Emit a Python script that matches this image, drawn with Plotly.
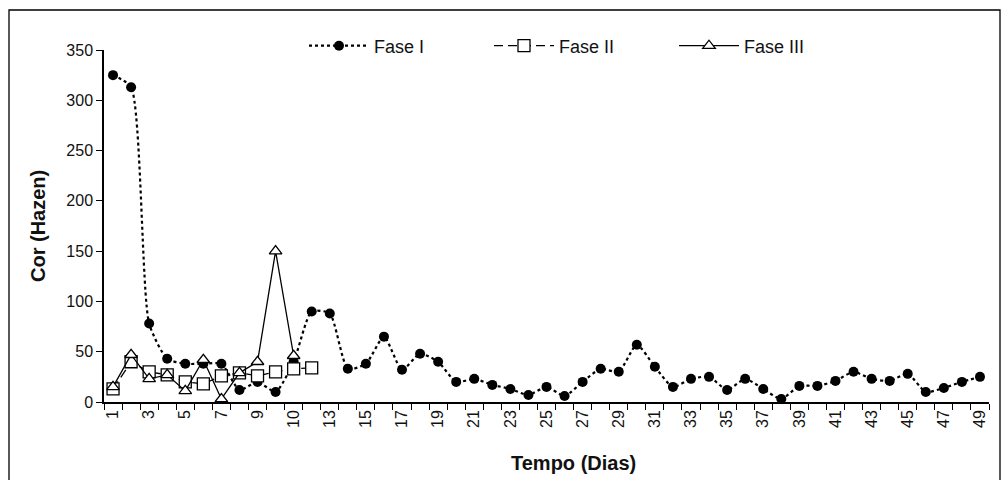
import plotly.graph_objects as go

# Day index for each sample (categorical positions on the x axis)
dias_fase1 = list(range(1, 50))
dias_fase2 = list(range(1, 13))
dias_fase3 = list(range(1, 12))

# Colour readings (Hazen units)
cor_fase1 = [325, 313, 78, 43, 38, 38, 38, 12, 20, 10,
             40, 90, 88, 33, 38, 65, 32, 48, 40, 20,
             23, 17, 13, 7, 15, 6, 20, 33, 30, 57,
             35, 15, 23, 25, 12, 23, 13, 3, 16, 16,
             21, 30, 23, 21, 28, 10, 14, 20, 25]
cor_fase2 = [13, 40, 30, 27, 20, 18, 26, 29, 26, 30, 33, 34]
cor_fase3 = [15, 47, 23, 27, 11, 42, 3, 29, 40, 150, 46]

# Category tick labels (every other category is labelled)
tick_pos = list(range(1, 50, 2))
tick_txt = ["1", "3", "5", "7", "9", "10", "13", "15", "17", "19",
            "21", "23", "25", "27", "29", "31", "33", "35", "37", "39",
            "41", "43", "45", "47", "49"]

FONT = "Arial, 'Liberation Sans', sans-serif"
INK = "#111"

# plot-area geometry in pixels
L, R, T, B = 104, 17, 50, 78
PW, PH = 1006 - L - R, 480 - T - B

fig = go.Figure()

fig.add_trace(go.Scatter(
    x=dias_fase1, y=cor_fase1, name="Fase I", mode="lines+markers",
    line=dict(color="black", width=2.2, dash="dot", shape="spline", smoothing=0.6),
    marker=dict(symbol="circle", size=10, color="black"),
))
fig.add_trace(go.Scatter(
    x=dias_fase2, y=cor_fase2, name="Fase II", mode="lines+markers",
    line=dict(color="black", width=1.3, dash="9px,5px"),
    marker=dict(symbol="square", size=12, color="white",
                line=dict(color="black", width=1.3)),
))
fig.add_trace(go.Scatter(
    x=dias_fase3, y=cor_fase3, name="Fase III", mode="lines+markers",
    line=dict(color="black", width=1.3),
    marker=dict(symbol="triangle-up", size=11, color="white",
                line=dict(color="black", width=1.3)),
))

fig.update_layout(
    width=1006, height=480,
    paper_bgcolor="white", plot_bgcolor="white",
    margin=dict(l=L, r=R, t=T, b=B),
    font=dict(family=FONT, size=16, color=INK),
    showlegend=True,
    legend=dict(
        orientation="h", x=(304 - L) / PW, xanchor="left",
        y=1 + 4 / PH, yanchor="middle",
        font=dict(family=FONT, size=18, color=INK),
        itemwidth=60,
        entrywidth=110, entrywidthmode="pixels",
        bgcolor="rgba(0,0,0,0)",
    ),
    xaxis=dict(
        range=[0.5, 49.5], showgrid=False, zeroline=False,
        showline=True, linecolor="black", linewidth=1.5,
        tickmode="array", tickvals=tick_pos, ticktext=tick_txt,
        ticks="", tickangle=-90,
        tickfont=dict(family=FONT, size=16, color=INK),
        minor=dict(tickmode="linear", tick0=0.5, dtick=1, ticks="outside",
                   ticklen=6, tickwidth=1.3, tickcolor="black", showgrid=False),
    ),
    yaxis=dict(
        range=[0, 350], showgrid=False, zeroline=False,
        showline=True, linecolor="black", linewidth=1.5,
        tickmode="linear", tick0=0, dtick=50,
        ticks="outside", ticklen=6, tickwidth=1.3, tickcolor="black",
        tickfont=dict(family=FONT, size=16, color=INK),
    ),
    annotations=[
        dict(text="<b>Tempo (Dias)</b>", xref="x", yref="paper",
             x=22.9, xanchor="left", y=-(463 - (480 - B)) / PH, yanchor="middle",
             showarrow=False, font=dict(family=FONT, size=20, color=INK)),
        dict(text="<b>Cor (Hazen)</b>", xref="paper", yref="paper",
             x=-(L - 38) / PW, xanchor="center", y=0.5, yanchor="middle",
             textangle=-90, showarrow=False,
             font=dict(family=FONT, size=20, color=INK)),
    ],
    shapes=[dict(type="rect", xref="paper", yref="paper",
                 x0=-(L - 9) / PW, x1=1 + (1000 - (1006 - R)) / PW,
                 y0=-0.3, y1=1 + (T - 10) / PH,
                 line=dict(color="black", width=1.3), layer="above")],
)

fig.write_html("out.html")
